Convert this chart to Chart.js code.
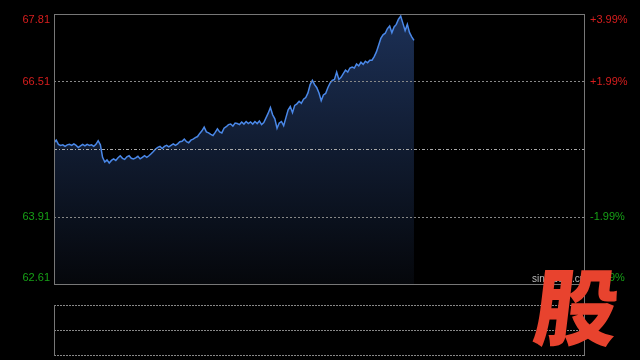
<!DOCTYPE html>
<html>
<head>
<meta charset="utf-8">
<script src="https://cdn.jsdelivr.net/npm/chart.js@4/dist/chart.umd.min.js"></script>
<style>
  html, body { margin: 0; background: #000; }
  canvas { display: block; }
</style>
</head>
<body>
<canvas id="chart-fenshi" width="640" height="360"></canvas>
<script>
// datos del minuto a minuto
const preClose = 65.21;
const priceTicks = [62.61, 63.91, 65.21, 66.51, 67.81];
const pctTicks = ['-3.99%', '-1.99%', '', '+1.99%', '+3.99%'];
const minutes = Array.from({ length: 241 }, (_, i) => i);
const prices = [
  65.33, 65.38, 65.30, 65.28, 65.29, 65.26, 65.29, 65.30, 65.28, 65.31,
  65.28, 65.24, 65.27, 65.30, 65.27, 65.30, 65.28, 65.29, 65.26, 65.30,
  65.37, 65.29, 65.05, 64.96, 65.00, 64.94, 64.99, 65.02, 64.99, 65.04,
  65.08, 65.03, 65.01, 65.06, 65.08, 65.03, 65.02, 65.04, 65.07, 65.02,
  65.05, 65.08, 65.05, 65.08, 65.12, 65.16, 65.21, 65.24, 65.26, 65.22,
  65.26, 65.28, 65.25, 65.28, 65.31, 65.28, 65.31, 65.35, 65.36, 65.40,
  65.35, 65.33, 65.38, 65.40, 65.43, 65.45, 65.51, 65.56, 65.63, 65.54,
  65.52, 65.49, 65.47, 65.53, 65.60, 65.54, 65.52, 65.61, 65.64, 65.68,
  65.69, 65.65, 65.71, 65.70, 65.68, 65.73, 65.69, 65.74, 65.70, 65.73,
  65.69, 65.74, 65.70, 65.75, 65.68, 65.72, 65.81, 65.90, 66.01, 65.87,
  65.79, 65.61, 65.71, 65.74, 65.66, 65.81, 65.96, 66.03, 65.91, 66.05,
  66.08, 66.13, 66.09, 66.17, 66.20, 66.29, 66.45, 66.53, 66.45, 66.39,
  66.29, 66.14, 66.25, 66.28, 66.39, 66.48, 66.53, 66.55, 66.69, 66.55,
  66.59, 66.66, 66.73, 66.69, 66.77, 66.79, 66.77, 66.85, 66.81, 66.88,
  66.84, 66.90, 66.87, 66.92, 66.92, 66.99, 67.08, 67.21, 67.34, 67.41,
  67.44, 67.53, 67.58, 67.45, 67.56, 67.61, 67.71, 67.77, 67.63, 67.49,
  67.61, 67.45, 67.37, 67.30
];

const ROJO = '#d81e1e', VERDE = '#16a016', GRIS = '#777';
const VOL = { top: 305, bottom: 355 };

function hline(ctx, x1, x2, y, color, dash) {
  ctx.save();
  ctx.strokeStyle = color;
  ctx.lineWidth = 1;
  ctx.setLineDash(dash || []);
  ctx.beginPath();
  ctx.moveTo(x1, y + 0.5);
  ctx.lineTo(x2, y + 0.5);
  ctx.stroke();
  ctx.restore();
}
function vline(ctx, x, y1, y2, color) {
  ctx.save();
  ctx.strokeStyle = color;
  ctx.lineWidth = 1;
  ctx.beginPath();
  ctx.moveTo(x + 0.5, y1);
  ctx.lineTo(x + 0.5, y2);
  ctx.stroke();
  ctx.restore();
}

const marco = {
  id: 'marco',
  afterDatasetsDraw(chart) {
    const { ctx, chartArea: a, scales: { y } } = chart;
    priceTicks.forEach(v => {
      const py = Math.round(y.getPixelForValue(v));
      if (v === preClose) hline(ctx, a.left, a.right, py, '#aaa', [3, 2, 1, 2]);
      else if (py > a.top + 1 && py < a.bottom - 1) hline(ctx, a.left, a.right, py, '#888', [2, 2]);
    });
  },
  afterDraw(chart) {
    const { ctx, chartArea: a, scales: { y } } = chart;
    const L = Math.round(a.left), R = Math.round(a.right), T = Math.round(a.top), B = Math.round(a.bottom);
    // bordes
    hline(ctx, L, R, T, GRIS);
    hline(ctx, L, R, B, GRIS);
    vline(ctx, L, T, B + 1, GRIS);
    vline(ctx, R, T, VOL.bottom + 1, GRIS);
    // panel de volumen
    hline(ctx, L, R, VOL.top, '#888', [2, 1]);
    hline(ctx, L, R, (VOL.top + VOL.bottom) / 2, '#888', [2, 1]);
    hline(ctx, L, R, VOL.bottom, '#888', [2, 1]);
    vline(ctx, L, VOL.top, VOL.bottom + 1, GRIS);

    // etiquetas
    ctx.save();
    ctx.font = '11px "Liberation Sans", Arial, sans-serif';
    ctx.textBaseline = 'middle';
    priceTicks.forEach((v, i) => {
      if (v === preClose) return;
      let py = y.getPixelForValue(v);
      py = Math.min(Math.max(py, T + 6), B - 6);
      ctx.fillStyle = v > preClose ? ROJO : VERDE;
      ctx.textAlign = 'right';
      ctx.fillText(v.toFixed(2), L - 4, py);
      ctx.textAlign = 'left';
      ctx.fillText(pctTicks[i], R + 6, py);
    });
    ctx.restore();

    // marca de agua
    ctx.save();
    ctx.font = '10px "Liberation Sans", Arial, sans-serif';
    ctx.fillStyle = '#bbb';
    ctx.textBaseline = 'middle';
    ctx.fillText('sina.com.cn', 532, 279);
    ctx.translate(573, 339);
    ctx.transform(1, 0, -0.12, 1, 0, 0);
    ctx.font = '900 84px "Noto Sans CJK SC", sans-serif';
    ctx.fillStyle = '#e8432e';
    ctx.textAlign = 'center';
    ctx.textBaseline = 'alphabetic';
    ctx.fillText('股', 0, 0);
    ctx.restore();
  }
};

const canvas = document.getElementById('chart-fenshi');
const ctx = canvas.getContext('2d');
const grad = ctx.createLinearGradient(0, 14, 0, 284);
grad.addColorStop(0, 'rgba(28,48,86,1)');
grad.addColorStop(1, 'rgba(5,7,11,1)');

new Chart(canvas, {
  type: 'line',
  data: {
    labels: minutes,
    datasets: [{
      data: prices,
      borderColor: '#4a88e8',
      borderWidth: 1.5,
      backgroundColor: grad,
      fill: 'start',
      pointRadius: 0,
      tension: 0
    }]
  },
  options: {
    responsive: false,
    animation: false,
    devicePixelRatio: 1,
    layout: { padding: { left: 54, right: 56, top: 14, bottom: 76 } },
    plugins: { legend: { display: false }, tooltip: { enabled: false } },
    scales: {
      x: { display: false, min: 0, max: 240 },
      y: { display: false, min: 62.61, max: 67.81 }
    }
  },
  plugins: [marco]
});
</script>
</body>
</html>
